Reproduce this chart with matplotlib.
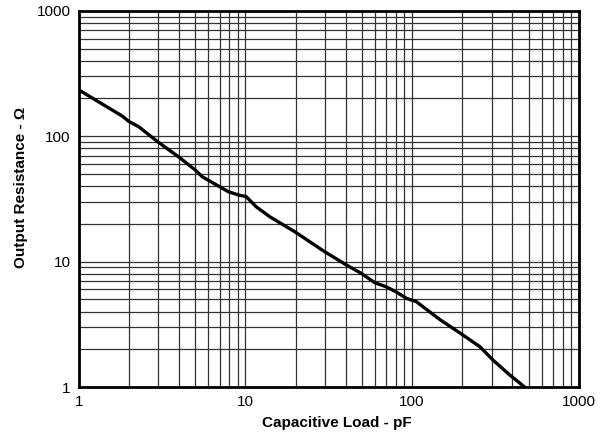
import matplotlib.pyplot as plt
from matplotlib.ticker import LogLocator, FixedLocator, NullFormatter

plt.rcParams['font.family'] = ['Liberation Sans', 'DejaVu Sans']

# Output resistance vs capacitive load
cap_load = [1, 1.82, 2, 2.29, 3, 4, 5, 5.5, 6.9, 7.9, 9.1, 10.1, 11.6, 14, 19.8,
            29.9, 40.4, 49.6, 59.7, 70, 80, 92.5, 106, 146.5, 202, 255, 306, 385, 474]
resistance = [234, 145, 131, 119, 89.6, 68, 53.8, 47.6, 40, 36.1, 34, 33, 27.4, 22.8, 17.3,
              12.0, 9.4, 8.06, 6.8, 6.3, 5.75, 5.1, 4.8, 3.46, 2.6, 2.1, 1.64, 1.25, 1.0]

x_ticks = [1, 10, 100, 1000]
y_ticks = [1, 10, 100, 1000]

fig = plt.figure(figsize=(6.06, 4.32), dpi=100)
ax = fig.add_axes([0.130, 0.104, 0.825, 0.871])

ax.plot(cap_load, resistance, color='black', lw=2.4, solid_joinstyle='round')

ax.set_xscale('log')
ax.set_yscale('log')
ax.set_xlim(1, 1000)
ax.set_ylim(1, 1000)

ax.xaxis.set_major_locator(FixedLocator(x_ticks))
ax.yaxis.set_major_locator(FixedLocator(y_ticks))
ax.set_xticklabels([str(t) for t in x_ticks])
ax.set_yticklabels([str(t) for t in y_ticks])
ax.xaxis.set_minor_locator(LogLocator(base=10, subs=range(2, 10)))
ax.yaxis.set_minor_locator(LogLocator(base=10, subs=range(2, 10)))
ax.xaxis.set_minor_formatter(NullFormatter())
ax.yaxis.set_minor_formatter(NullFormatter())

ax.grid(True, which='both', color='#333333', lw=0.9)
ax.set_axisbelow(True)
ax.tick_params(which='both', length=0, labelsize=11, pad=6)

for s in ax.spines.values():
    s.set_linewidth(2)

fig.text(0.556, 0.020, 'Capacitive Load - pF', fontsize=11, fontweight='bold',
         ha='center', va='center')
fig.text(0.034, 0.567, 'Output Resistance - Ω', fontsize=11, fontweight='bold',
         ha='center', va='center', rotation=90)

fig.savefig('out.png', dpi=100)
